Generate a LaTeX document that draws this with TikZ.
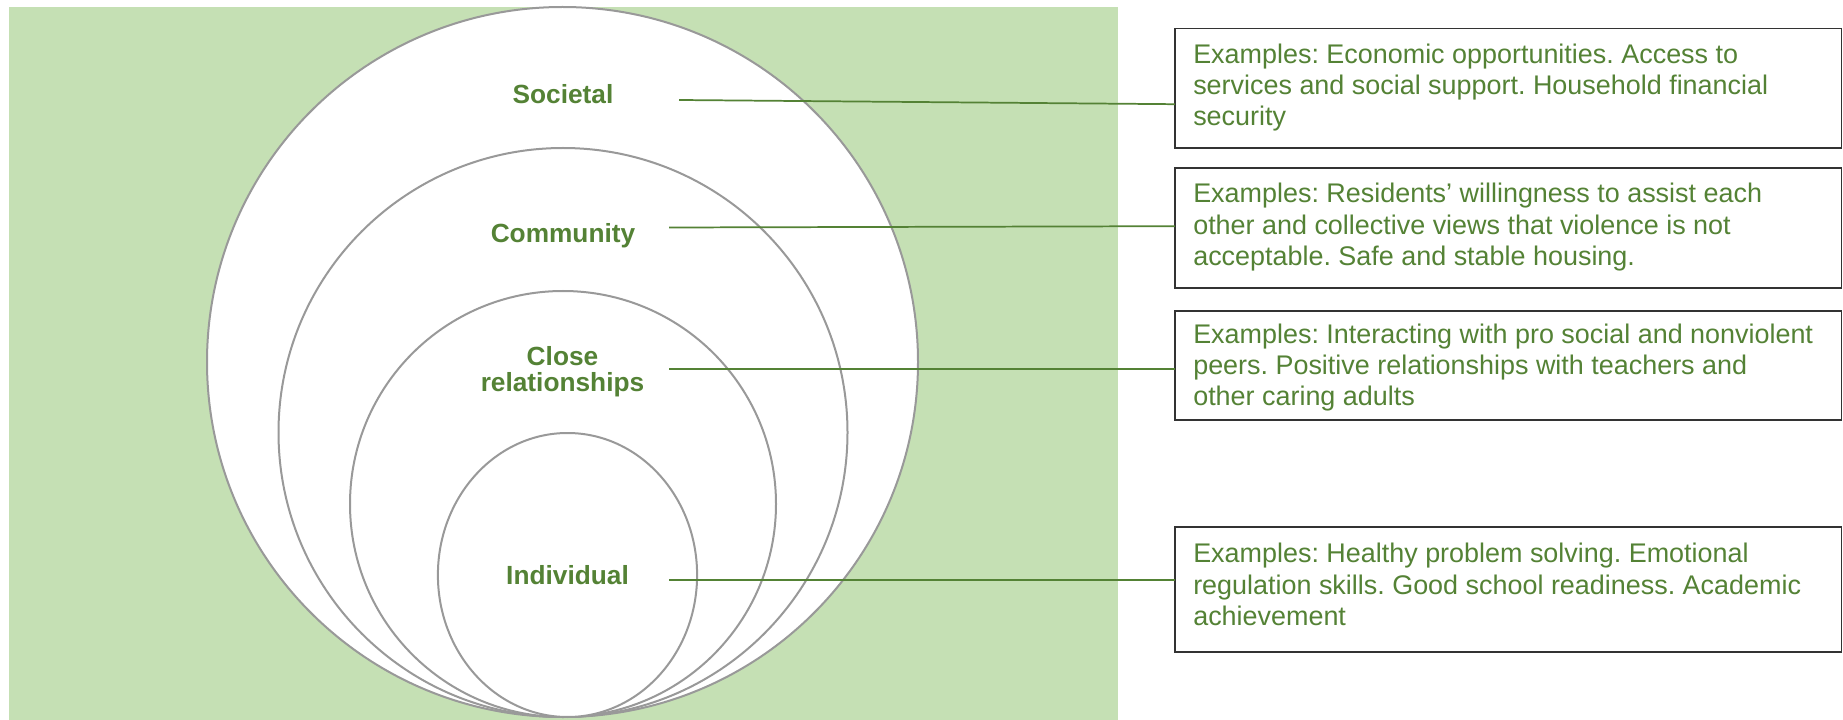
\documentclass[tikz,border=0pt]{standalone}
\usepackage{fontspec}
\setmainfont{Liberation Sans}
\usetikzlibrary{calc}
\definecolor{bggreen}{HTML}{C5E0B4}
\definecolor{txtgreen}{HTML}{548235}
\definecolor{ringgray}{HTML}{999999}
\definecolor{boxline}{HTML}{333333}
\frenchspacing
\tikzset{
  ring/.style={draw=ringgray, line width=1.5pt, fill=white},
  lvl/.style={text=txtgreen, font=\fontsize{19.7}{19.5}\selectfont\bfseries, inner sep=0pt, align=center},
  exbox/.style={draw=boxline, line width=1.2pt, fill=white, minimum width=499.9pt, inner sep=0pt, outer sep=0pt},
  extext/.style={text=txtgreen, font=\fontsize{20.2}{23.5}\selectfont, inner sep=0pt, anchor=base west},
  link/.style={draw=txtgreen, line width=1.3pt},
}
\begin{document}
\begin{tikzpicture}[x=0.75pt, y=-0.75pt]
\useasboundingbox (0,0) rectangle (1843,720);
% background
\fill[bggreen] (9,7) rectangle (1118,720);
% nested rings
\draw[ring] (562.5,362) ellipse [x radius=355.5, y radius=355];
\draw[ring] (563,432.5) ellipse [x radius=284.5, y radius=284.5];
\draw[ring] (563,504) ellipse [x radius=213, y radius=213];
\draw[ring] (567.5,575) ellipse [x radius=129.6, y radius=142];
% boxes
\node[exbox, minimum height=89.8pt] (b1) at (1508.25,88.2) {};
\node[exbox, minimum height=90pt] (b2) at (1508.25,228.2) {};
\node[exbox, minimum height=81.75pt] (b3) at (1508.25,365.5) {};
\node[exbox, minimum height=93.75pt] (b4) at (1508.25,589.5) {};
% box texts
\node[extext] (t1) at (1193,63.3) {\begin{tabular}[t]{@{}l@{}}Examples: Economic opportunities. Access to\\services and social support. Household financial\\security\end{tabular}};
\node[extext] (t2) at (1193,202.7) {\begin{tabular}[t]{@{}l@{}}Examples: Residents’ willingness to assist each\\other and collective views that violence is not\\acceptable. Safe and stable housing.\end{tabular}};
\begin{scope}
\clip (1175,311) rectangle (1842,411.7);
\node[extext] (t3) at (1193,343.3) {\begin{tabular}[t]{@{}l@{}}Examples: Interacting with pro social and nonviolent\\peers. Positive relationships with teachers and\\other caring adults\end{tabular}};
\end{scope}
\node[extext] (t4) at (1193,562.7) {\begin{tabular}[t]{@{}l@{}}Examples: Healthy problem solving. Emotional\\regulation skills. Good school readiness. Academic\\achievement\end{tabular}};
% connectors
\coordinate (c1) at (679,100);
\coordinate (c2) at (669,227.5);
\coordinate (c3) at (669,369);
\coordinate (c4) at (669,580);
\draw[link] (c1) -- ($(b1.west)+(0,16)$);
\draw[link] (c2) -- ($(b2.west)+(0,-2)$);
\draw[link] (c3) -- ($(b3.west)+(0,3.5)$);
\draw[link] (c4) -- ($(b4.west)+(0,-9.5)$);
% level labels
\node[lvl, anchor=base] (soc) at (563,104) {Societal};
\node[lvl, anchor=base] (com) at (563,242.7) {Community};
\node[lvl, anchor=center] (clo) at (562.5,372) {Close\\relationships};
\node[lvl, anchor=base] (ind) at (567.5,584) {Individual};
\end{tikzpicture}
\end{document}
